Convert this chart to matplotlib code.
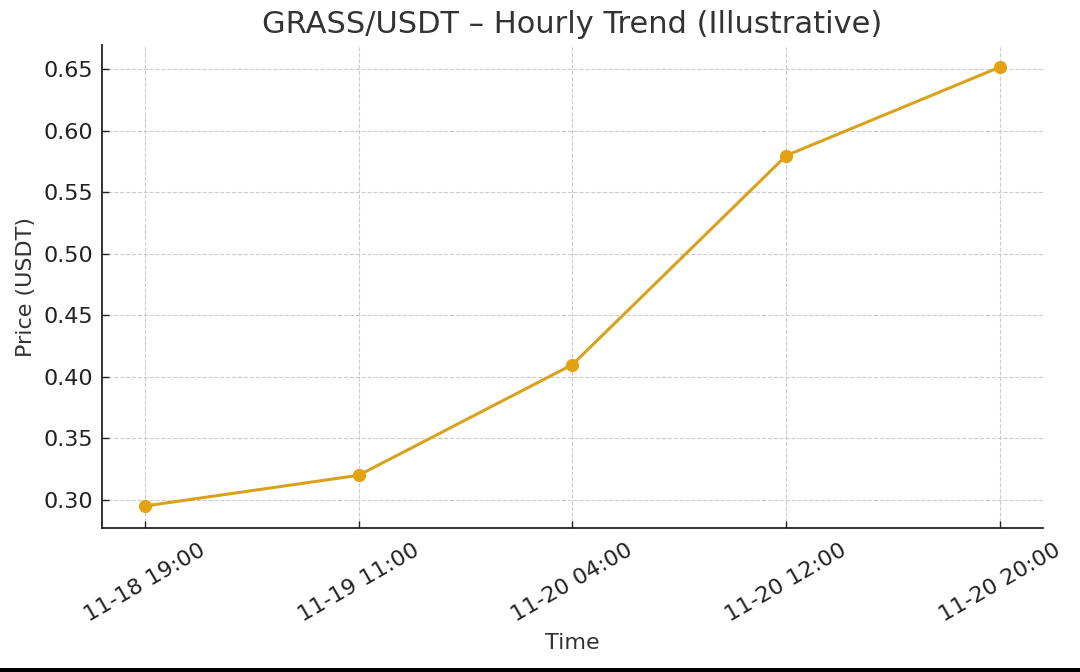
import matplotlib.pyplot as plt
from matplotlib.patches import Rectangle

# data
times = ["11-18 19:00", "11-19 11:00", "11-20 04:00", "11-20 12:00", "11-20 20:00"]
prices = [0.295, 0.32, 0.41, 0.58, 0.652]

text_color = "#333333"

fig = plt.figure(figsize=(10.8, 6.72), dpi=100)
ax = fig.add_axes([0.0944, 0.2143, 0.8713, 0.7187])

x = list(range(len(times)))
ax.plot(x, prices, color="#D9A11C", linewidth=2.2, marker="o", markersize=8.5,
        markerfacecolor="#E3A20F", markeredgecolor="#E3A20F")

ax.set_xticks(x)
ax.set_xticklabels(times, rotation=30)
ax.set_yticks([0.30, 0.35, 0.40, 0.45, 0.50, 0.55, 0.60, 0.65])
ax.yaxis.set_major_formatter(plt.FormatStrFormatter("%.2f"))

ax.grid(True, linestyle="--", color="#cccccc", linewidth=0.8)
ax.set_axisbelow(True)

for side in ["top", "right"]:
    ax.spines[side].set_visible(False)
for side in ["left", "bottom"]:
    ax.spines[side].set_color("#222222")
    ax.spines[side].set_linewidth(1.3)

ax.tick_params(direction="in", length=5, width=1.0, color="#222222",
               labelsize=16, labelcolor="#222222")
ax.tick_params(axis="x", pad=9)
ax.tick_params(axis="y", pad=6)

ax.set_title("GRASS/USDT – Hourly Trend (Illustrative)", fontsize=22,
             color=text_color, pad=9)
ax.set_xlabel("Time", fontsize=16, color=text_color, labelpad=5)
ax.set_ylabel("Price (USDT)", fontsize=16, color=text_color, labelpad=6)

# dark strip along the bottom edge of the screenshot
fig.patches.append(Rectangle((0, 0), 1, 4 / 672, transform=fig.transFigure,
                             facecolor="black", edgecolor="none"))

fig.savefig("out.png", dpi=100)
